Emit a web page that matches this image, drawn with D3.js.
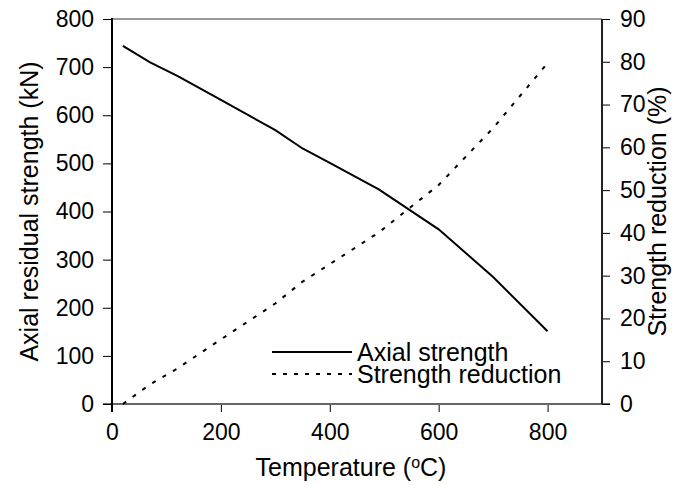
<!DOCTYPE html>
<html>
<head>
<meta charset="utf-8">
<script src="https://cdn.jsdelivr.net/npm/d3@7"></script>
<style>
  body { margin: 0; background: #fff; }
  text { font-family: "Liberation Sans", Arial, sans-serif; }
</style>
</head>
<body>
<svg width="686" height="485"></svg>
<script>
const svg = d3.select("svg");

// data
const temps = [20, 70, 120, 200, 300, 350, 400, 490, 600, 700, 800];
const axialStrength = [744, 710, 682, 632, 569, 531, 501, 446, 363, 264, 151];
const strengthReduction = [0, 4.6, 8.3, 15.1, 23.5, 28.6, 32.7, 40.1, 51.2, 64.5, 79.7];

const xTicks = [0, 200, 400, 600, 800];
const yLeftTicks = [0, 100, 200, 300, 400, 500, 600, 700, 800];
const yRightTicks = [0, 10, 20, 30, 40, 50, 60, 70, 80, 90];

const plotLeft = 112, plotRight = 602, plotTop = 19, plotBottom = 404;

const x = d3.scaleLinear().domain([0, 900]).range([plotLeft, plotRight]);
const yL = d3.scaleLinear().domain([0, 800]).range([plotBottom, plotTop]);
const yR = d3.scaleLinear().domain([0, 90]).range([plotBottom, plotTop]);

const tickFont = "23px";
const labelFont = "25px";

// top frame line
svg.append("line")
  .attr("x1", plotLeft).attr("x2", plotRight)
  .attr("y1", plotTop).attr("y2", plotTop)
  .attr("stroke", "#999").attr("stroke-width", 2);

// x axis
const gx = svg.append("g")
  .attr("transform", `translate(0,${plotBottom})`)
  .call(d3.axisBottom(x).tickValues(xTicks).tickSize(8).tickPadding(12));
gx.select(".domain").remove();
gx.selectAll(".tick line").attr("stroke", "#000").attr("stroke-width", 1);
gx.selectAll(".tick text").attr("font-size", tickFont).attr("fill", "#000");

svg.append("line")
  .attr("x1", plotLeft - 9).attr("x2", plotRight + 8)
  .attr("y1", plotBottom).attr("y2", plotBottom)
  .attr("stroke", "#666").attr("stroke-width", 2);

// left axis
const gl = svg.append("g")
  .attr("transform", `translate(${plotLeft},0)`)
  .call(d3.axisLeft(yL).tickValues(yLeftTicks).tickSize(9).tickPadding(9));
gl.select(".domain").remove();
gl.selectAll(".tick line").attr("stroke", "#000").attr("stroke-width", 1);
gl.selectAll(".tick text").attr("font-size", tickFont).attr("fill", "#000");

svg.append("line")
  .attr("x1", plotLeft).attr("x2", plotLeft)
  .attr("y1", plotTop - 1).attr("y2", plotBottom + 8)
  .attr("stroke", "#000").attr("stroke-width", 2);

// right axis
const gr = svg.append("g")
  .attr("transform", `translate(${plotRight},0)`)
  .call(d3.axisRight(yR).tickValues(yRightTicks).tickSize(8).tickPadding(10));
gr.select(".domain").remove();
gr.selectAll(".tick line").attr("stroke", "#000").attr("stroke-width", 1);
gr.selectAll(".tick text").attr("font-size", tickFont).attr("fill", "#000");

svg.append("line")
  .attr("x1", plotRight).attr("x2", plotRight)
  .attr("y1", plotTop).attr("y2", plotBottom)
  .attr("stroke", "#222").attr("stroke-width", 2);

// lines
const rows = temps.map((t, i) => ({ t, a: axialStrength[i], r: strengthReduction[i] }));

svg.append("path")
  .datum(rows)
  .attr("fill", "none")
  .attr("stroke", "#000")
  .attr("stroke-width", 2)
  .attr("d", d3.line().x(d => x(d.t)).y(d => yL(d.a)));

svg.append("path")
  .datum(rows)
  .attr("fill", "none")
  .attr("stroke", "#000")
  .attr("stroke-width", 2)
  .attr("stroke-dasharray", "4,8")
  .attr("d", d3.line().x(d => x(d.t)).y(d => yR(d.r)));

// legend
const legend = svg.append("g");
legend.append("line")
  .attr("x1", 272).attr("x2", 352).attr("y1", 352).attr("y2", 352)
  .attr("stroke", "#000").attr("stroke-width", 2);
legend.append("line")
  .attr("x1", 272).attr("x2", 352).attr("y1", 374).attr("y2", 374)
  .attr("stroke", "#000").attr("stroke-width", 2)
  .attr("stroke-dasharray", "4,7");
legend.append("text")
  .attr("x", 357).attr("y", 361)
  .attr("font-size", labelFont)
  .text("Axial strength");
legend.append("text")
  .attr("x", 357).attr("y", 383)
  .attr("font-size", labelFont)
  .text("Strength reduction");

// axis titles
const xTitle = svg.append("text")
  .attr("x", (plotLeft + plotRight) / 2 - 6)
  .attr("y", 476)
  .attr("text-anchor", "middle")
  .attr("font-size", labelFont);
xTitle.append("tspan").text("Temperature (");
xTitle.append("tspan").attr("baseline-shift", "super").attr("font-size", "16px").text("o");
xTitle.append("tspan").text("C)");

svg.append("text")
  .attr("transform", `translate(38,${(plotTop + plotBottom) / 2}) rotate(-90)`)
  .attr("text-anchor", "middle")
  .attr("font-size", labelFont)
  .text("Axial residual strength (kN)");

svg.append("text")
  .attr("transform", `translate(666,${(plotTop + plotBottom) / 2}) rotate(-90)`)
  .attr("text-anchor", "middle")
  .attr("font-size", labelFont)
  .text("Strength reduction (%)");
</script>
</body>
</html>
